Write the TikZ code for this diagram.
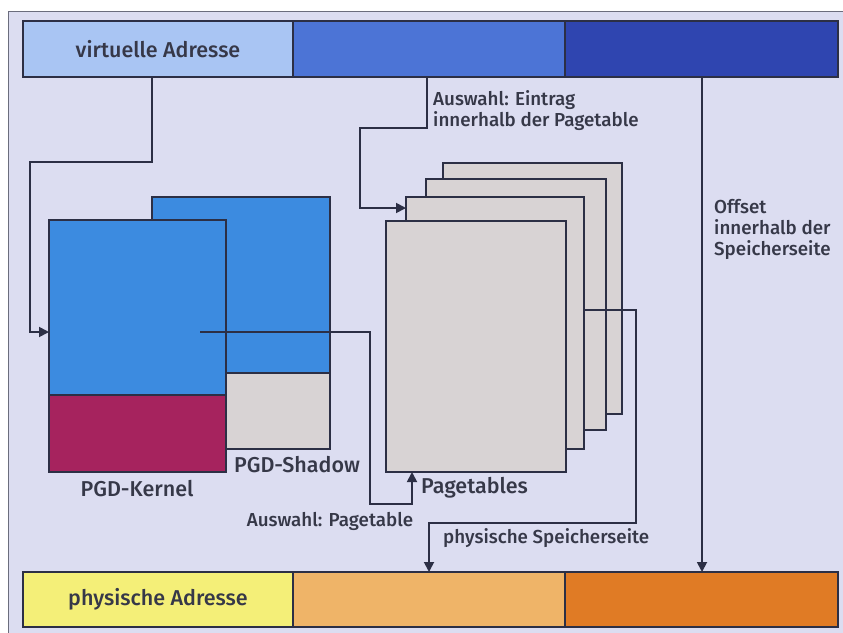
\documentclass[tikz,border=0pt]{standalone}
\usepackage{fontspec}
\setmainfont{Fira Sans Medium}
\usetikzlibrary{arrows.meta}
\definecolor{bg}{HTML}{DCDDF1}
\definecolor{linec}{HTML}{2C2F45}
\definecolor{txt}{HTML}{363848}
\definecolor{vA}{HTML}{A9C5F3}
\definecolor{vB}{HTML}{4C74D6}
\definecolor{vC}{HTML}{2F45B0}
\definecolor{pA}{HTML}{F4EF78}
\definecolor{pB}{HTML}{EFB468}
\definecolor{pC}{HTML}{E07B25}
\definecolor{pgdblue}{HTML}{3C8BE0}
\definecolor{pgdmag}{HTML}{A6235E}
\definecolor{ptgray}{HTML}{D8D3D4}
\begin{document}
\begin{tikzpicture}[x=1pt,y=-1pt,
  seg/.style={draw=linec, line width=1.2pt, inner sep=0pt, outer sep=0pt, anchor=north west,
              text=txt, font=\fontsize{21.5}{25}\selectfont},
  sheet/.style={draw=linec, line width=1.2pt, inner sep=0pt, outer sep=0pt, anchor=north west},
  conn/.style={draw=linec, line width=1.8pt},
  arr/.style={conn, -{Triangle[length=10pt,width=10pt]}},
  lbl/.style={text=txt, font=\fontsize{18.8}{21}\selectfont, inner sep=0pt, align=left},
  biglbl/.style={lbl, font=\fontsize{21.5}{25}\selectfont}]
\useasboundingbox (0,0) rectangle (843,632);
\clip (0,0) rectangle (843,632);
\fill[white] (0,0) rectangle (843,632);
\draw[draw=linec!70, line width=0.8pt, fill=bg] (8,11) rectangle (860,650);

% address bars
\node[seg, fill=vA, minimum width=270pt, minimum height=56pt] (v1) at (23,21) {virtuelle Adresse};
\node[seg, fill=vB, minimum width=272pt, minimum height=56pt] (v2) at (293,21) {};
\node[seg, fill=vC, minimum width=273pt, minimum height=56pt] (v3) at (565,21) {};
\node[seg, fill=pA, minimum width=270pt, minimum height=55pt] (p1) at (23,572) {physische Adresse};
\node[seg, fill=pB, minimum width=272pt, minimum height=55pt] (p2) at (293,572) {};
\node[seg, fill=pC, minimum width=273pt, minimum height=55pt] (p3) at (565,572) {};

% PGD shadow and kernel
\node[sheet, fill=pgdblue, minimum width=178pt, minimum height=176pt] (sblue) at (152,197) {};
\node[sheet, fill=ptgray, minimum width=178pt, minimum height=76pt] (sgray) at (152,373) {};
\node[sheet, fill=pgdblue, minimum width=177pt, minimum height=175pt] (kblue) at (49,220) {};
\node[sheet, fill=pgdmag, minimum width=177pt, minimum height=77pt] (kmag) at (49,395) {};

% pagetables (back to front)
\node[sheet, fill=ptgray, minimum width=179pt, minimum height=251pt] (pt4) at (443,163) {};
\node[sheet, fill=ptgray, minimum width=180pt, minimum height=251pt] (pt3) at (426,179) {};
\coordinate (ptout) at (584,310);
\draw[conn] (ptout) -- (636,310) -- (636,523) -- (429,523);
\node[sheet, fill=ptgray, minimum width=178pt, minimum height=252pt] (pt2) at (406,197) {};
\node[sheet, fill=ptgray, minimum width=180pt, minimum height=251pt] (pt1) at (386,221) {};
\draw[arr] (429,522) -- (p2.north -| 429,0);

% connectors
\draw[arr] (v1.south -| 152,0) -- (152,162) -- (30,162) -- (30,332) -- (kblue.west |- 0,332);
\coordinate (kstart) at (200,332);
\draw[arr] (kstart) -- (370,332) -- (370,504) -- (412,504) -- (pt1.south -| 412,0);
\draw[arr] (v2.south -| 427,0) -- (427,128) -- (360,128) -- (360,208) -- (pt2.west |- 0,208);
\draw[arr] (v3.south -| 702,0) -- (p3.north -| 702,0);

% labels
\node[biglbl] (lshadow) at (297,465) {PGD-Shadow};
\node[biglbl] (lkernel) at (137,489) {PGD-Kernel};
\node[biglbl, anchor=west] (lpt) at (421,488) {Pagetables};
\node[lbl] (lauswahl) at (330,521) {Auswahl: Pagetable};
\node[lbl, anchor=west] (lphys) at (443,538) {physische Speicherseite};
\node[lbl, anchor=north west] (leintrag) at (433,90) {Auswahl: Eintrag\\innerhalb der Pagetable};
\node[lbl, anchor=north west] (loffset) at (714,199) {Offset\\innerhalb der\\Speicherseite};
\end{tikzpicture}
\end{document}
